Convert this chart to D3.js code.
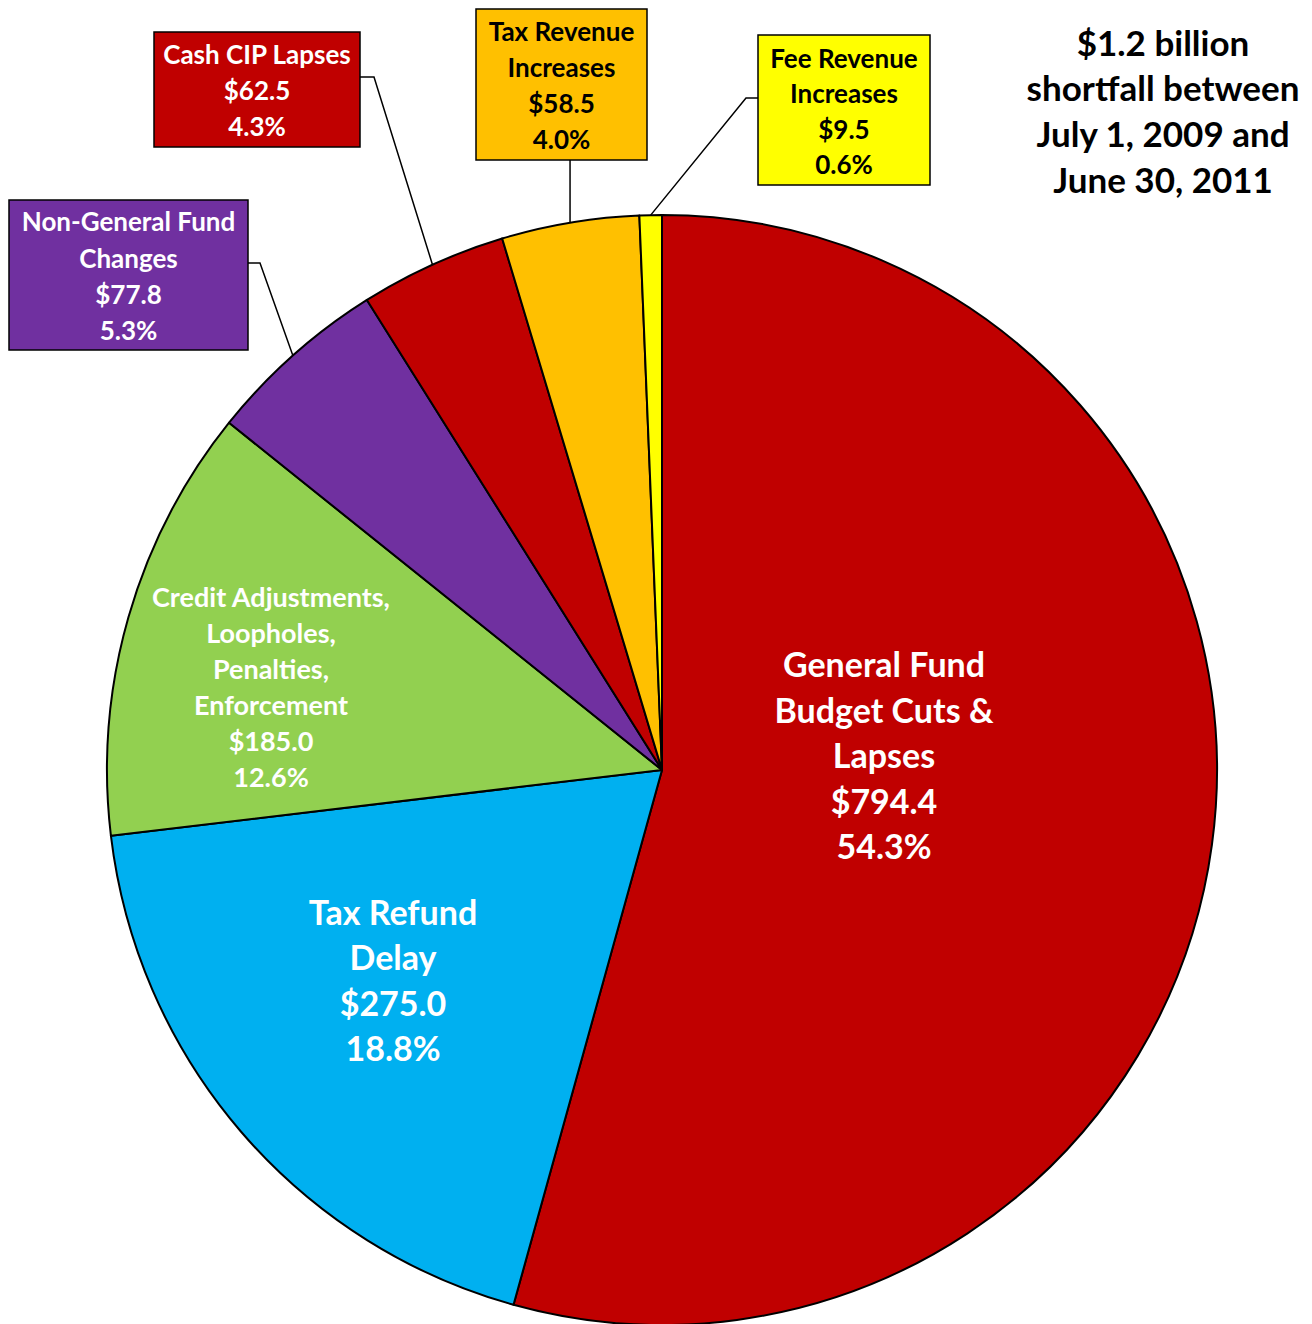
<!DOCTYPE html>
<html>
<head>
<meta charset="utf-8">
<script src="https://cdn.jsdelivr.net/npm/d3@7"></script>
<style>
    body { margin: 0; background: #fff; }
    svg text { font-family: Lato, "Open Sans", sans-serif; font-weight: bold; }
</style>
</head>
<body>
<script>
const categories = [
    ['General Fund', 'Budget Cuts &', 'Lapses'],
    ['Tax Refund', 'Delay'],
    ['Credit Adjustments,', 'Loopholes,', 'Penalties,', 'Enforcement'],
    ['Non-General Fund', 'Changes'],
    ['Cash CIP Lapses'],
    ['Tax Revenue', 'Increases'],
    ['Fee Revenue', 'Increases']
];
const values = [794.4, 275.0, 185.0, 77.8, 62.5, 58.5, 9.5];
const colors = ['#C00000', '#00B0F0', '#92D050', '#7030A0', '#C00000', '#FFC000', '#FFFF00'];
const textColors = ['#fff', '#fff', '#fff', '#fff', '#fff', '#000', '#000'];
const titleLines = ['$1.2 billion', 'shortfall between', 'July 1, 2009 and', 'June 30, 2011'];

// label layout: inside labels sit at a centre point, outside ones in a box with a leader
const layout = [
    { inside: true, x: 884, y: 756, size: 34, lh: 45.5 },
    { inside: true, x: 393, y: 981, size: 34, lh: 45.5 },
    { inside: true, x: 271, y: 687, size: 27, lh: 36 },
    { box: [9, 200, 239, 150], elbow: [260, 263], from: 'right', size: 26, lh: 36.3 },
    { box: [154, 32, 206, 115], elbow: [374, 77], from: 'right', size: 26, lh: 36 },
    { box: [476, 9, 171, 151], elbow: null, from: 'bottom', size: 26, lh: 36 },
    { box: [758, 35, 172, 150], elbow: [746, 98], from: 'left', size: 26, lh: 35.5 }
];

window.onload = () => {
    const width = 1312;
    const height = 1324;
    const cx = 662, cy = 770, r = 555;

    const svg = d3.select('body')
                  .append('svg')
                  .attr('width', width)
                  .attr('height', height);

    const total = d3.sum(values);
    const fmtPct = d3.format('.1%');
    const fmtVal = d3.format('.1f');

    const pie = d3.pie().sort(null).value(d => d)(values);
    const arc = d3.arc().innerRadius(0).outerRadius(r);
    const edge = d3.arc().innerRadius(r).outerRadius(r);

    const g = svg.append('g').attr('transform', `translate(${cx},${cy})`);

    g.selectAll('path.slice')
        .data(pie)
        .enter()
        .append('path')
        .attr('class', 'slice')
        .attr('d', arc)
        .style('fill', (d, i) => colors[i])
        .style('stroke', '#000')
        .style('stroke-width', '2px')
        .style('stroke-linejoin', 'round');

    pie.forEach((d, i) => {
        const lay = layout[i];
        const lines = categories[i].concat(['$' + fmtVal(d.value), fmtPct(d.value / total)]);

        let tx, ty;
        if (lay.inside) {
            tx = lay.x;
            ty = lay.y - (lines.length - 1) * lay.lh / 2;
        } else {
            const [bx, by, bw, bh] = lay.box;
            const [ex, ey] = edge.centroid(d);
            let start;
            if (lay.from === 'right') start = [bx + bw, lay.elbow[1]];
            else if (lay.from === 'left') start = [bx, lay.elbow[1]];
            else start = [cx + ex, by + bh];
            const pts = [start];
            if (lay.elbow) pts.push(lay.elbow);
            pts.push([cx + ex, cy + ey]);

            svg.append('path')
                .attr('d', d3.line()(pts))
                .style('fill', 'none')
                .style('stroke', '#000')
                .style('stroke-width', '1.5px');

            svg.append('rect')
                .attr('x', bx)
                .attr('y', by)
                .attr('width', bw)
                .attr('height', bh)
                .style('fill', colors[i])
                .style('stroke', '#000')
                .style('stroke-width', '1.5px');

            tx = bx + bw / 2;
            ty = by + bh / 2 - (lines.length - 1) * lay.lh / 2 + 1.5;
        }

        const t = svg.append('text')
            .attr('text-anchor', 'middle')
            .style('font-size', lay.size + 'px')
            .style('fill', textColors[i]);
        lines.forEach((line, k) => {
            t.append('tspan')
                .attr('x', tx)
                .attr('y', ty + k * lay.lh)
                .attr('dy', '0.36em')
                .text(line);
        });
    });

    // title
    const title = svg.append('text')
        .attr('text-anchor', 'middle')
        .style('font-size', '35px')
        .style('fill', '#000');
    titleLines.forEach((line, k) => {
        title.append('tspan')
            .attr('x', 1163)
            .attr('y', 43 + k * 45.7)
            .attr('dy', '0.36em')
            .text(line);
    });
};
</script>
</body>
</html>
